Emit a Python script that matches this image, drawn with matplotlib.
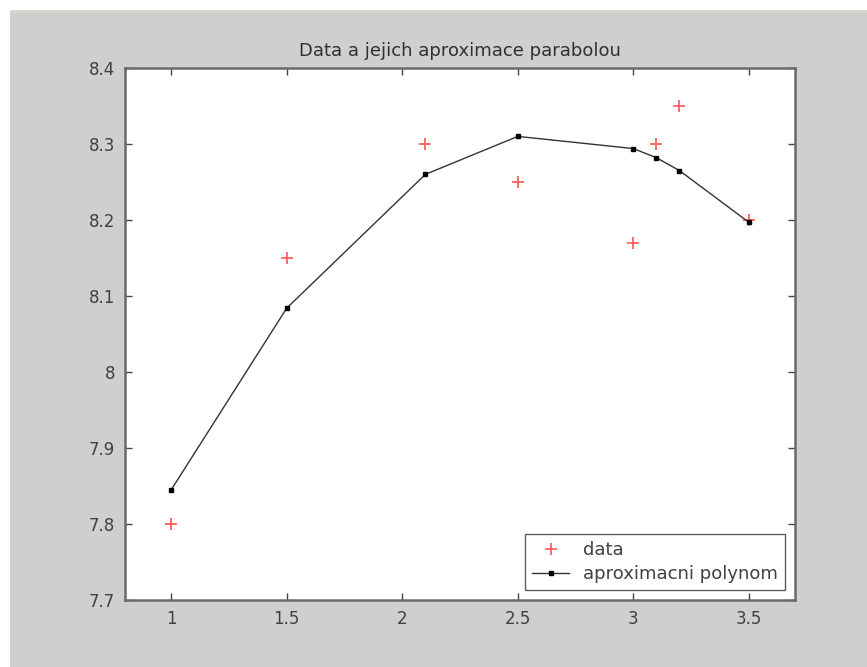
import matplotlib
matplotlib.use('Agg')
from matplotlib import pyplot as plt
from matplotlib.patches import Rectangle

# measured points
x_data = [1.0, 1.5, 2.1, 2.5, 3.0, 3.1, 3.2, 3.5]
y_data = [7.80, 8.15, 8.30, 8.25, 8.17, 8.30, 8.35, 8.20]

# values of the fitted parabola at the same x
y_fit = [7.845, 8.084, 8.260, 8.310, 8.294, 8.282, 8.265, 8.197]

x_ticks = [1, 1.5, 2, 2.5, 3, 3.5]
x_tick_labels = ['1', '1.5', '2', '2.5', '3', '3.5']
y_ticks = [7.7, 7.8, 7.9, 8.0, 8.1, 8.2, 8.3, 8.4]
y_tick_labels = ['7.7', '7.8', '7.9', '8', '8.1', '8.2', '8.3', '8.4']

plt.rcParams['font.family'] = ['DejaVu Sans']

W, H = 867, 667
fig = plt.figure(figsize=(W / 100, H / 100), dpi=100, facecolor='white')

# window background: gray panel with a thin strip on top
fig.patches.append(Rectangle((10 / W, 0), 1 - 10 / W, 1 - 13 / H,
                             transform=fig.transFigure, facecolor='#cfcfcf',
                             edgecolor='none', zorder=-10))
fig.patches.append(Rectangle((10 / W, 1 - 13 / H), 1 - 10 / W, 3 / H,
                             transform=fig.transFigure, facecolor='#d8d8d0',
                             edgecolor='none', zorder=-10))

ax = fig.add_axes([125 / W, 1 - 600 / H, 670 / W, 532 / H])
ax.set_facecolor('white')

ax.plot(x_data, y_data, '+', color='#ff5555', markersize=8, markeredgewidth=1.2,
        linestyle='none', label='data')
ax.plot(x_data, y_fit, '-', color='#333333', linewidth=1.0,
        marker='s', markersize=3, markerfacecolor='black', markeredgecolor='black',
        label='aproximacni polynom')

ax.set_xlim(0.8, 3.7)
ax.set_ylim(7.7, 8.4)
ax.set_xticks(x_ticks)
ax.set_xticklabels(x_tick_labels)
ax.set_yticks(y_ticks)
ax.set_yticklabels(y_tick_labels)

ax.tick_params(direction='in', length=5, width=1, color='#444444',
               top=True, right=True, labelsize=12, labelcolor='#404040', pad=7)
for s in ax.spines.values():
    s.set_color('#6a6a6a')
    s.set_linewidth(1.8)

ax.set_title('Data a jejich aproximace parabolou', fontsize=13, color='#303030', pad=9)

leg = ax.legend(loc='lower right', fontsize=13, frameon=True, fancybox=False,
                edgecolor='#333333', borderaxespad=0.55, handlelength=2.05,
                handletextpad=0.75, labelspacing=0.3, borderpad=0.4)
leg.get_frame().set_linewidth(1.0)
for t in leg.get_texts():
    t.set_color('#404040')

fig.savefig('out.png', dpi=100, facecolor=fig.get_facecolor())
